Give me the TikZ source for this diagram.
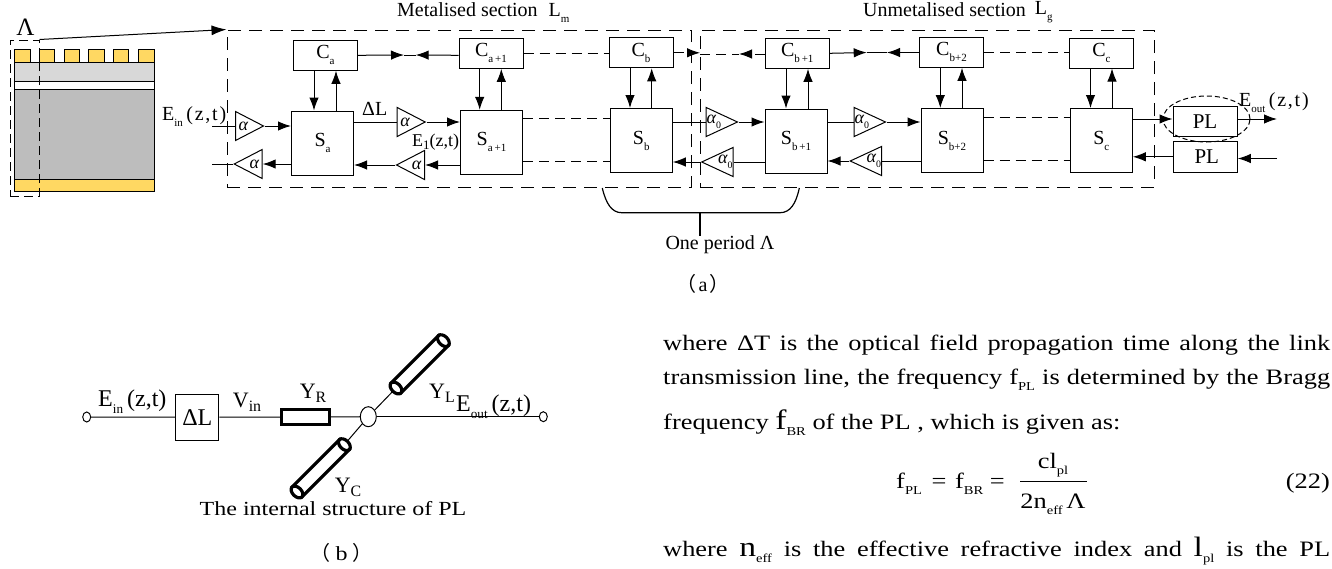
\documentclass[tikz,border=0pt]{standalone}
\usepackage{fontspec}
\setmainfont{Liberation Serif}
\newfontfamily\cjk{Noto Sans CJK SC}
\newfontfamily\bodyface[FakeStretch=1.2]{Liberation Serif}
\usetikzlibrary{arrows.meta,shapes.geometric}
\definecolor{padgold}{HTML}{FFD862}
\definecolor{cladgray}{HTML}{D8D8D8}
\definecolor{coregray}{HTML}{BDBDBD}
\newcommand{\lo}[1]{\raisebox{-.3em}{\scalebox{.55}{#1}}}
\newcommand{\mo}[1]{\raisebox{-.22em}{\scalebox{.72}{#1}}}
\newcommand{\tall}[1]{{\fontsize{28}{28}\selectfont #1}}
\newcommand{\zt}{{\addfontfeature{LetterSpace=9}(z,t)}}
\tikzset{
    every node/.style={inner sep=0pt, font=\fontsize{20}{20}\selectfont},
    cbox/.style={draw, line width=1pt, minimum width=64pt, minimum height=30pt},
    sbox/.style={draw, line width=1pt, minimum width=62pt, minimum height=64pt},
    tright/.style={draw, line width=1pt, isosceles triangle, isosceles triangle stretches,
        minimum width=29pt, minimum height=28pt, anchor=lower side, font=\fontsize{18}{18}\selectfont\itshape},
    tleft/.style={tright, shape border rotate=180},
    port/.style={draw, line width=1pt, ellipse, minimum width=8pt, minimum height=10pt},
    arr/.style={-{Latex[length=13pt,width=9.5pt]}, line width=1pt},
    wire/.style={line width=1pt},
    gap/.style={line width=1pt, dash pattern=on 10pt off 6pt},
    section/.style={draw, line width=1pt, dash pattern=on 13pt off 8pt},
    textline/.style={anchor=base west, font=\bodyface\fontsize{22}{22}\selectfont},
    tube/.pic={
        \draw[line width=3.2pt, fill=white] (0,-7) -- (67,-7) -- (67,7) -- (0,7) -- cycle;
        \draw[line width=3.2pt, fill=white] (0,0) ellipse (4.5 and 7);
        \draw[line width=3.2pt, fill=white] (67,0) ellipse (4.5 and 7);
    }
}
\begin{document}
\begin{tikzpicture}[x=1pt, y=-1pt]
    \useasboundingbox (0,0) rectangle (1332,568);
    % grating cell
    \fill[cladgray] (14.5,62) rectangle (154,81);
    \fill[coregray] (14.5,89) rectangle (154,179);
    \fill[padgold] (14.5,179) rectangle (154,191);
    \draw[line width=1pt] (14.5,62) rectangle (154,81);
    \draw[line width=1pt] (14.5,81) rectangle (154,89);
    \draw[line width=1pt] (14.5,89) rectangle (154,179);
    \draw[line width=1pt] (14.5,179) rectangle (154,191);
    \draw[line width=1pt, fill=padgold] (14.5,49) rectangle (30,62);
    \draw[line width=1pt, fill=padgold] (39,49) rectangle (54.5,62);
    \draw[line width=1pt, fill=padgold] (64,49) rectangle (79.5,62);
    \draw[line width=1pt, fill=padgold] (88.5,49) rectangle (104,62);
    \draw[line width=1pt, fill=padgold] (113,49) rectangle (128.5,62);
    \draw[line width=1pt, fill=padgold] (138,49) rectangle (154,62);
    \node[section, dash pattern=on 9pt off 5pt, minimum width=29pt, minimum height=156pt] (cell) at (24.5,118) {};
    \node (lambda) at (25.5,27) {\fontsize{25}{25}\selectfont Λ};

    % section frames and titles
    \node[section, minimum width=464pt, minimum height=157pt] (metal) at (459,108.5) {};
    \node[section, minimum width=454pt, minimum height=157pt] (bare) at (927,108.5) {};
    \draw[arr, -{Latex[length=15pt,width=10pt]}] (cell.north east) -- (metal.north west);
    \node[anchor=base west] (metaltitle) at (397,16) {Metalised section\hspace{11pt}L\lo{m}};
    \node[anchor=base west] (baretitle) at (863,16) {Unmetalised section\hspace{9pt}\raisebox{2pt}{L\lo{g}}};

    % coupling boxes
    \node[cbox] (ca) at (325.5,55.3) {C\lo{a}};
    \node[cbox] (ca1) at (491,53.3) {C\lo{a\,+1}};
    \node[cbox] (cb) at (641,52.8) {C\lo{b}};
    \node[cbox] (cb1) at (797.3,53.3) {C\lo{b\,+1}};
    \node[cbox] (cb2) at (951.5,52.3) {C\lo{b+2}};
    \node[cbox] (cc) at (1101.5,53) {C\lo{c}};

    % scattering boxes
    \node[sbox] (sa) at (322.5,143) {S\lo{a}};
    \node[sbox] (sa1) at (491.5,142.3) {S\lo{a\,+1}};
    \node[sbox] (sb) at (641.3,140.5) {S\lo{b}};
    \node[sbox] (sb1) at (796,141) {S\lo{b\,+1}};
    \node[sbox] (sb2) at (952,140.5) {S\lo{b+2}};
    \node[sbox] (sc) at (1101.3,140.5) {S\lo{c}};

    % grating ports
    \node[cbox, minimum height=30pt] (plout) at (1205,121.5) {\fontsize{21}{21}\selectfont PL};
    \node[cbox, minimum height=30.5pt] (plin) at (1205.3,156.8) {\fontsize{21}{21}\selectfont \hspace{3pt}PL};
    \node[draw, ellipse, line width=1pt, dash pattern=on 5pt off 3pt, minimum width=87pt, minimum height=46pt] (ring) at (1206.5,119) {};

    % gain triangles
    \node[tright] (ga) at (235,126) {α};
    \node[tleft] (la) at (262.7,164) {α};
    \node[tright] (ga1) at (396.7,122) {α};
    \node[tleft] (la1) at (425,165) {α};
    \node[tright] (gb) at (705.7,122) {α\lo{\upshape 0}};
    \node[tleft] (lb) at (733.5,162) {α\lo{\upshape 0}};
    \node[tright] (gb1) at (853.7,122) {α\lo{\upshape 0}};
    \node[tleft] (lb1) at (882,161) {α\lo{\upshape 0}};

    % free ends
    \coordinate (einstart) at (212,126);
    \coordinate (eback) at (212,164);
    \coordinate (eout) at (1277,119);
    \coordinate (einback) at (1277,158.5);
    \coordinate (tipa) at (404,55);
    \coordinate (tipb) at (415.7,55);
    \coordinate (tipc) at (700,54);
    \coordinate (tipd) at (739,54);
    \coordinate (tipe) at (866.7,52.5);
    \coordinate (tipf) at (887,52.5);

    % forward row
    \draw[wire] (einstart) -- (ga.lower side);
    \draw[arr] (ga.apex) -- (ga.apex -| sa.west);
    \draw[wire] (sa.east |- ga1.lower side) -- (ga1.lower side);
    \draw[arr] (ga1.apex) -- (ga1.apex -| sa1.west);
    \draw[gap] ([yshift=24pt]sa1.east) -- ([yshift=24pt]sa1.east -| sb.west);
    \draw[wire] (sb.east |- gb.lower side) -- (gb.lower side);
    \draw[arr] (gb.apex) -- (gb.apex -| sb1.west);
    \draw[wire] (sb1.east |- gb1.lower side) -- (gb1.lower side);
    \draw[arr] (gb1.apex) -- (gb1.apex -| sb2.west);
    \draw[gap] ([yshift=23pt]sb2.east) -- ([yshift=23pt]sb2.east -| sc.west);
    \draw[arr] (sc.east |- eout) -- (sc.east |- eout -| plout.west);
    \draw[arr] (plout.east |- eout) -- (eout);

    % backward row
    \draw[arr] (sa.west |- la.apex) -- (la.lower side);
    \draw[wire] (la.apex) -- (eback);
    \draw[arr] (sa1.west |- la1.lower side) -- (la1.lower side);
    \draw[arr] (la1.apex) -- (la1.apex -| sa.east);
    \draw[gap] ([yshift=-19pt]sa1.east) -- ([yshift=-19pt]sa1.east -| sb.west);
    \draw[wire] (sb1.west |- lb.lower side) -- (lb.lower side);
    \draw[arr] (lb.apex) -- (lb.apex -| sb.east);
    \draw[wire] (sb2.west |- lb1.lower side) -- (lb1.lower side);
    \draw[arr] (lb1.apex) -- (lb1.apex -| sb1.east);
    \draw[gap] ([yshift=-20pt]sb2.east) -- ([yshift=-20pt]sb2.east -| sc.west);
    \draw[arr] (plin.west) -- (plin.west -| sc.east);
    \draw[arr] (einback) -- (einback -| plin.east);

    % coupling to scattering
    \draw[arr] ([xshift=-11.5pt]ca.south) -- ([xshift=-11.5pt]ca.south |- sa.north);
    \draw[arr] ([xshift=10.5pt]ca.south |- sa.north) -- ([xshift=10.5pt]ca.south);
    \draw[arr] ([xshift=-11.3pt]ca1.south) -- ([xshift=-11.3pt]ca1.south |- sa1.north);
    \draw[arr] ([xshift=10.3pt]ca1.south |- sa1.north) -- ([xshift=10.3pt]ca1.south);
    \draw[arr] ([xshift=-11pt]cb.south) -- ([xshift=-11pt]cb.south |- sb.north);
    \draw[arr] ([xshift=10.7pt]cb.south |- sb.north) -- ([xshift=10.7pt]cb.south);
    \draw[arr] ([xshift=-11.3pt]cb1.south) -- ([xshift=-11.3pt]cb1.south |- sb1.north);
    \draw[arr] ([xshift=10.7pt]cb1.south |- sb1.north) -- ([xshift=10.7pt]cb1.south);
    \draw[arr] ([xshift=-11.2pt]cb2.south) -- ([xshift=-11.2pt]cb2.south |- sb2.north);
    \draw[arr] ([xshift=10.5pt]cb2.south |- sb2.north) -- ([xshift=10.5pt]cb2.south);
    \draw[arr] ([xshift=-11pt]cc.south) -- ([xshift=-11pt]cc.south |- sc.north);
    \draw[arr] ([xshift=10.5pt]cc.south |- sc.north) -- ([xshift=10.5pt]cc.south);

    % coupling chain
    \draw[arr] (ca.east) -- (tipa);
    \draw[arr] (ca.east -| ca1.west) -- (tipb);
    \draw[wire] (tipa) -- (tipb);
    \draw[gap] (ca1.east) -- (ca1.east -| cb.west);
    \draw[arr, gap] (cb.east) -- (cb.east -| tipc);
    \draw[gap] (tipc) -- (tipd);
    \draw[arr, gap] (cb1.west |- tipd) -- (tipd);
    \draw[arr] (cb1.east) -- (tipe);
    \draw[arr] (tipf -| cb2.west) -- (tipf);
    \draw[wire] (tipe) -- (tipf);
    \draw[gap] (cb2.east) -- (cb2.east -| cc.west);

    % labels of part (a)
    \node[anchor=base west] (einlabel) at (162,120.5) {E\lo{in}\,\zt};
    \node[anchor=base west] (dllabel) at (362,115.5) {ΔL};
    \node[anchor=base west] (e1label) at (412,146) {\fontsize{18}{18}\selectfont E\mo{1}(z,t)};
    \node[anchor=base west] (eoutlabel) at (1239,106) {E\lo{out}\,\zt};

    % period bracket
    \node (period) at (720,245) {One period Λ};
    \coordinate (bracketl) at (602.3,188);
    \coordinate (bracketr) at (799.3,188);
    \coordinate (bracketm) at (700,212.7);
    \draw[line width=1.2pt] (bracketl) .. controls (606,204) and (612,212.7) .. (621.7,212.7)
        -- (780,212.7) .. controls (790,212.7) and (796,204) .. (bracketr);
    \draw[line width=1.6pt] (bracketm) -- (bracketm |- period.north);
    \node (capa) at (703,284) {\fontsize{20}{20}\selectfont{\cjk （}\hspace{2pt}a\hspace{2pt}{\cjk ）}};

    % part (b)
    \node[port] (portin) at (86.7,417) {};
    \node[draw, line width=1pt, minimum width=43pt, minimum height=46.5pt] (delay) at (197.3,417.3) {\fontsize{24}{24}\selectfont ΔL};
    \node[draw, line width=3pt, minimum width=48pt, minimum height=15pt] (resist) at (305.3,417) {};
    \node[draw, line width=1pt, ellipse, fill=white, minimum width=16pt, minimum height=20pt] (junction) at (368.3,416.7) {};
    \node[port] (portout) at (543.3,416.7) {};
    \coordinate (tubeup) at (396,388);
    \coordinate (tubelow) at (297,492);
    \coordinate (tubelowend) at (344.4,444.6);
    \draw[wire] (portin) -- (delay);
    \draw[wire] (delay) -- (resist);
    \draw[wire] (resist) -- (junction);
    \draw[wire] (junction) -- (portout);
    \draw[wire] (junction) -- (tubeup);
    \draw[wire] (junction) -- (tubelowend);
    \pic[rotate=45] at (tubeup) {tube};
    \pic[rotate=45] at (tubelow) {tube};
    \node[anchor=base west] (einb) at (98,406) {\fontsize{24}{24}\selectfont E\lo{in}\,(z,t)};
    \node[anchor=base] (vin) at (247,407) {\fontsize{22}{22}\selectfont V\mo{in}};
    \node[anchor=base] (yr) at (313,398) {\fontsize{22}{22}\selectfont Y\mo{R}};
    \node[anchor=base] (yl) at (442,398) {\fontsize{22}{22}\selectfont Y\mo{L}};
    \node[anchor=base west] (eoutb) at (456,411) {\fontsize{24}{24}\selectfont E\lo{out}\,(z,t)};
    \node[anchor=base] (yc) at (348,492) {\fontsize{22}{22}\selectfont Y\mo{C}};
    \node[textline, anchor=base] (structure) at (333,515) {\fontsize{20}{20}\selectfont The internal structure of PL};
    \node[textline, anchor=center] (capb) at (341.7,553) {\fontsize{20}{20}\selectfont{\cjk （}\hspace{5pt}b\hspace{5pt}{\cjk ）}};

    % running text
    \node[textline] (lineone) at (663,350) {\makebox[667pt][s]{where ΔT is the optical field propagation time along the link}};
    \node[textline] (linetwo) at (663,384) {\makebox[667pt][s]{transmission line, the frequency f\lo{PL} is determined by the Bragg}};
    \node[textline] (linethree) at (663,429) {frequency \tall{f}\lo{BR} of the PL , which is given as:};
    \node[textline] (lineend) at (663,556) {\makebox[667pt][s]{where \tall{n}\lo{eff} is the effective refractive index and \tall{l}\lo{pl} is the PL}};

    % equation
    \node[textline] (eqleft) at (896,488) {f\lo{PL}\hspace{3pt} = \hspace{2pt}f\lo{BR} =};
    \node[textline, anchor=base] (eqnum) at (1053,468) {cl\lo{pl}};
    \node[textline, anchor=base] (eqden) at (1053,508) {2n\lo{eff}\,Λ};
    \coordinate (rulel) at (1020,481.7);
    \coordinate (ruler) at (1087,481.7);
    \draw[wire] (rulel) -- (ruler);
    \node[textline, anchor=base east] (eqno) at (1330,488) {(22)};
\end{tikzpicture}
\end{document}
